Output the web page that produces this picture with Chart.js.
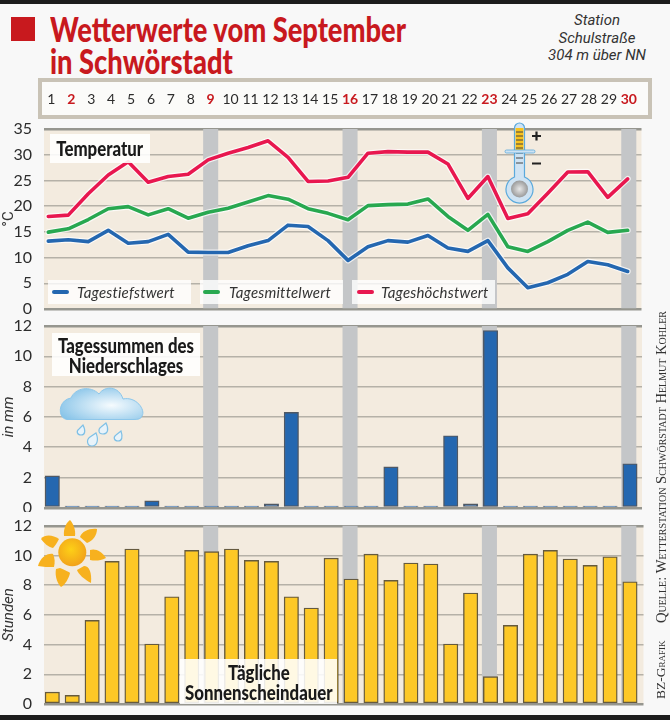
<!DOCTYPE html>
<html><head><meta charset="utf-8">
<script src="https://cdn.jsdelivr.net/npm/chart.js@4"></script>
<style>
html,body{margin:0;padding:0;background:#f8f8f8;}
#page{position:relative;width:670px;height:720px;overflow:hidden;background:#f8f8f8;font-family:Lato,sans-serif;}
#page>*{position:absolute;}
canvas{left:0;display:block;}
.bar{left:0;width:670px;background:#1c1c1c;}
.title{left:50px;top:12px;color:#c8191e;font-weight:900;font-size:35px;line-height:32px;white-space:nowrap;transform-origin:0 0;transform:scaleX(.78);}
.station{left:527px;width:140px;top:12px;text-align:center;font:italic 15px/17.5px Roboto,sans-serif;color:#333;}
.strip{left:38px;top:78px;width:606px;height:33px;background:#fbfbf9;border:4px solid #c9c3b6;}
.lab{background:rgba(255,255,255,.88);display:flex;justify-content:center;color:#1a1a1a;text-align:center;}
.lab div{flex:none;font-weight:900;font-size:20px;line-height:20px;white-space:nowrap;transform:scaleX(.84);}
.leg{background:rgba(255,255,255,.8);}
.legtxt{font:italic 15px/18px Lato,sans-serif;color:#333;white-space:nowrap;letter-spacing:.2px;}
.sw{height:4px;border-radius:2px;}
.side{font-family:'Liberation Serif',serif;font-variant:small-caps;color:#333;transform-origin:0 0;transform:rotate(-90deg);white-space:nowrap;}
</style></head>
<body><div id="page">
<div class="bar" style="top:0;height:4px"></div>
<div class="bar" style="top:715px;height:5px"></div>
<div style="left:11px;top:17px;width:24px;height:24px;background:#c8191e"></div>
<div class="title">Wetterwerte vom September<br>in Schwörstadt</div>
<div class="station">Station<br>Schulstraße<br>304 m über NN</div>
<div class="strip"></div>
<canvas id="cTemp" width="670" height="240" style="top:80px"></canvas>
<canvas id="cRain" width="670" height="196" style="top:316px"></canvas>
<canvas id="cSun" width="670" height="198" style="top:516px"></canvas>

<div class="lab" style="left:50px;top:134px;width:100px;height:29px"><div style="line-height:29px">Temperatur</div></div>
<div class="leg" style="left:48px;top:280px;width:143px;height:24px"></div>
<div class="leg" style="left:200px;top:280px;width:143px;height:24px"></div>
<div class="leg" style="left:352px;top:280px;width:143px;height:24px"></div>
<div class="sw" style="left:52px;top:290px;width:17px;background:#2467b0"></div>
<div class="sw" style="left:203px;top:290px;width:17px;background:#28a850"></div>
<div class="sw" style="left:357px;top:290px;width:17px;background:#e8174f"></div>
<div class="legtxt" style="left:77px;top:283px">Tagestiefstwert</div>
<div class="legtxt" style="left:229px;top:283px">Tagesmittelwert</div>
<div class="legtxt" style="left:381px;top:283px">Tageshöchstwert</div>

<svg style="left:500px;top:120px" width="50" height="90" viewBox="500 120 50 90">
<defs><radialGradient id="bulb"><stop offset="0" stop-color="#e8e8e8"/><stop offset="1" stop-color="#9a9a9a"/></radialGradient></defs>
<path d="M514.5 128a5 5 0 0 1 10 0V177a13.5 13.5 0 1 1-10 0Z" fill="#cfe3f3" stroke="#5aa9dc" stroke-width="1.2"/>
<rect x="515.5" y="128" width="8" height="23" fill="#f9c31c"/>
<path d="M516 132h7M516 136h7M516 140h7M516 144h7M516 148h7M516 153h7M516 158h7M516 163h7" stroke="#444" stroke-width="1"/>
<rect x="505" y="150" width="30" height="3" rx="1.5" fill="#cfe3f3" stroke="#5aa9dc" stroke-width=".8"/>
<circle cx="519.5" cy="189" r="8.5" fill="url(#bulb)"/>
<path d="M532 136h9M536.500 131.500v9M532 163.500h9" stroke="#222" stroke-width="2.200"/>
</svg>

<svg style="left:55px;top:380px" width="95" height="70" viewBox="55 380 95 70">
<defs><radialGradient id="cl" cx=".62" cy=".55" r=".7"><stop offset="0" stop-color="#f6fbfe"/><stop offset="1" stop-color="#86c3e8"/></radialGradient></defs>
<path d="M67 419.500C57 418 58 400 71 398C75 388 90 385 99 394C105 385 119 386 123 399C136 396 146 410 142 416C141 419 138 419.500 134 419.500Z" fill="url(#cl)" stroke="#8cc6ea" stroke-width="1"/>
<g fill="#e8f3fa" stroke="#7fc0e6" stroke-width="1.200">
<path d="M83 425c3 6 2 10-2 10s-5-4-2-6Z"/><path d="M106 423c3 6 2 11-3 11s-5-5-2-7Z"/><path d="M96 433c3 7 1 13-4 13s-6-6-2-9Z"/><path d="M121 431c2 6 1 10-3 10s-5-4-2-6Z"/>
</g></svg>

<svg style="left:36px;top:516px" width="74" height="72" viewBox="36 516 74 72">
<defs><radialGradient id="su" cx=".45" cy=".4" r=".7"><stop offset="0" stop-color="#fdd017"/><stop offset="1" stop-color="#f09a1a"/></radialGradient></defs>
<circle cx="72.300" cy="552.300" r="14" fill="url(#su)"/>
<g fill="#f7b11e">
<path d="M64 536C63 528 67 522 70 520C73 523 76 530 75 536Z"/>
<path d="M80 537C82 531 90 528 97 529C97 535 93 541 87 543Z"/>
<path d="M90 550C95 548 102 551 106 558C100 561 95 561 90 560Z"/>
<path d="M84 566C89 566 92 572 91 583C85 580 78 574 77 570Z"/>
<path d="M60 568C65 570 69 572 70 573C69 578 65 585 61 587C56 582 55 574 56 569Z"/>
<path d="M38 566C40 558 47 553 53 554C55 558 55 563 54 567C48 567 43 567 38 566Z"/>
<path d="M41 539C45 534 53 535 59 539C57 543 55 546 53 548C48 547 44 543 41 539Z"/>
</g></svg>

<div class="lab" style="left:52px;top:333px;width:148px;height:43px"><div style="padding-top:2px">Tagessummen des<br>Niederschlages</div></div>
<div class="lab" style="left:180px;top:659px;width:157px;height:45px"><div style="padding-top:3px">Tägliche<br>Sonnenscheindauer</div></div>

<div class="side" style="left:653px;top:623px;font-size:14.6px">Quelle: Wetterstation Schwörstadt Helmut Kohler</div>
<div class="side" style="left:653px;top:699px;font-size:13.5px">BZ-Grafik</div>
</div>
<script>
const days=[1,2,3,4,5,6,7,8,9,10,11,12,13,14,15,16,17,18,19,20,21,22,23,24,25,26,27,28,29,30];
const redDays=[2,9,16,23,30];
const bandDays=[9,16,23,30];
const tiefst=[13.2,13.45,13.1,15.3,12.8,13.1,14.5,11.05,11,11,12.3,13.3,16.3,16.05,13.3,9.45,12.1,13.3,13,14.3,11.85,11.2,13.3,8,4.15,5.1,6.75,9.25,8.6,7.3];
const mittel=[14.95,15.6,17.4,19.5,19.9,18.3,19.5,17.65,18.8,19.6,20.8,22.05,21.35,19.5,18.6,17.35,20.1,20.3,20.4,21.4,18,15.3,18.4,12.1,11.2,13.1,15.3,16.9,14.9,15.3];
const hoechst=[18,18.25,22.4,26.05,28.65,24.65,25.75,26.2,29,30.3,31.4,32.7,29.5,24.8,24.9,25.6,30.3,30.6,30.5,30.5,28.2,21.5,25.75,17.6,18.5,22.5,26.65,26.7,21.7,25.3];
const regen=[2.1,0,0,0,0,0.45,0,0,0,0,0,0.25,6.3,0,0,0,0,2.7,0,0,4.75,0.25,11.7,0,0,0,0,0,0,2.9];
const sonne=[0.8,0.58,5.63,9.6,10.43,4.04,7.22,10.34,10.25,10.43,9.67,9.6,7.22,6.46,9.82,8.41,10.09,8.32,9.49,9.42,4.04,7.47,1.84,5.29,10.09,10.34,9.76,9.33,9.91,8.23];

const tickFont="Lato,sans-serif";
const pts=a=>a.map((v,i)=>({x:days[i],y:v}));
const bandPts=top=>bandDays.map(d=>({x:d,y:top}));
const dayAt=(px,first,pitch)=>1+(px-first)/pitch;
const isRed=c=>!!c.tick&&redDays.includes(c.tick.value);

const bgPlugin={id:'plotBg',beforeDraw(c){const a=c.chartArea,g=c.ctx;g.save();g.fillStyle='#f3ebdf';g.fillRect(a.left,a.top,a.width,a.height);g.restore();}};

function yAxis(max,step,title,titleItalic){
  const edge=c=>!!c.tick&&(c.tick.value===0||c.tick.value===max);
  return{
  min:0,max,position:'left',
  afterFit(s){s.width=44;s.paddingTop=0;s.paddingBottom=0;},
  border:{display:false},
  ticks:{stepSize:step,padding:12,color:'#2c2c2c',font:{family:tickFont,size:16}},
  grid:{drawTicks:false,lineWidth:c=>edge(c)?2.4:1.4,color:c=>edge(c)?'#96968f':'#b5b1a8'},
  title:{display:true,text:title,color:'#333',padding:0,font:{family:'Roboto,sans-serif',size:15,style:titleItalic?'italic':'normal'}}
};}
function xHidden(l,r,first,pitch){return{type:'linear',display:false,offset:false,min:dayAt(l,first,pitch),max:dayAt(r,first,pitch)};}
const BAND_FIRST=51.4,BAND_PITCH=19.91;

function band(top){return{type:'bar',data:bandPts(top),xAxisID:'xb',backgroundColor:'#c4c6c8',barThickness:14.4,order:10,grouped:false,borderWidth:0};}
function base(cfgScales,datasets,pad){return{
  data:{datasets},
  plugins:[bgPlugin],
  options:{responsive:false,animation:false,devicePixelRatio:1,
    layout:{autoPadding:false,padding:pad},
    plugins:{legend:{display:false},tooltip:{enabled:false}},
    scales:cfgScales}
};}
function lineDs(arr,color){return[
  {type:'line',data:pts(arr),borderColor:'rgba(255,255,255,.75)',borderWidth:6,pointRadius:0,tension:0,borderJoinStyle:'round',borderCapStyle:'round',order:5,clip:false},
  {type:'line',data:pts(arr),borderColor:color,borderWidth:3.6,pointRadius:0,tension:0,borderJoinStyle:'round',borderCapStyle:'round',order:1,clip:false}
];}

new Chart(document.getElementById('cTemp'),base({
  x:xHidden(44,641.5,48.3,19.98),
  xb:{type:'linear',position:'top',offset:false,min:dayAt(44,BAND_FIRST,BAND_PITCH),max:dayAt(641.5,BAND_FIRST,BAND_PITCH),
    afterFit(s){s.height=49;s.paddingLeft=0;s.paddingRight=0;},
    border:{display:false},grid:{display:false,drawTicks:false},
    ticks:{stepSize:1,includeBounds:false,autoSkip:false,maxRotation:0,minRotation:0,padding:21,
      color:c=>isRed(c)?'#c8191e':'#2c2c2c',
      font:c=>({family:tickFont,size:14,weight:isRed(c)?'bold':'normal'})}},
  y:yAxis(35,5,'°C',false)
},[band(35),...lineDs(tiefst,'#2467b0'),...lineDs(mittel,'#28a850'),...lineDs(hoechst,'#e8174f')],
 {left:0,right:670-641.5,top:0,bottom:240-229}));

new Chart(document.getElementById('cRain'),base({
  x:xHidden(44,642,52.3,19.92),
  xb:xHidden(44,642,BAND_FIRST,BAND_PITCH),
  y:yAxis(12,2,'in mm',true)
},[band(12),{type:'bar',data:pts(regen),backgroundColor:'#2467b0',borderColor:'#4f5864',borderWidth:1.4,borderSkipped:false,barThickness:14.4,minBarLength:1.6,order:1,grouped:false}],
 {left:0,right:670-642,top:10,bottom:196-191.7}));

new Chart(document.getElementById('cSun'),base({
  x:xHidden(44,643.5,52.3,19.92),
  xb:xHidden(44,643.5,BAND_FIRST,BAND_PITCH),
  y:yAxis(12,2,'Stunden',true)
},[band(12),{type:'bar',data:pts(sonne),backgroundColor:'#fdc826',borderColor:'#655a3e',borderWidth:1.4,borderSkipped:false,barThickness:14.4,order:1,grouped:false}],
 {left:0,right:670-643.5,top:9.7,bottom:198-188}));
</script>
</body></html>
